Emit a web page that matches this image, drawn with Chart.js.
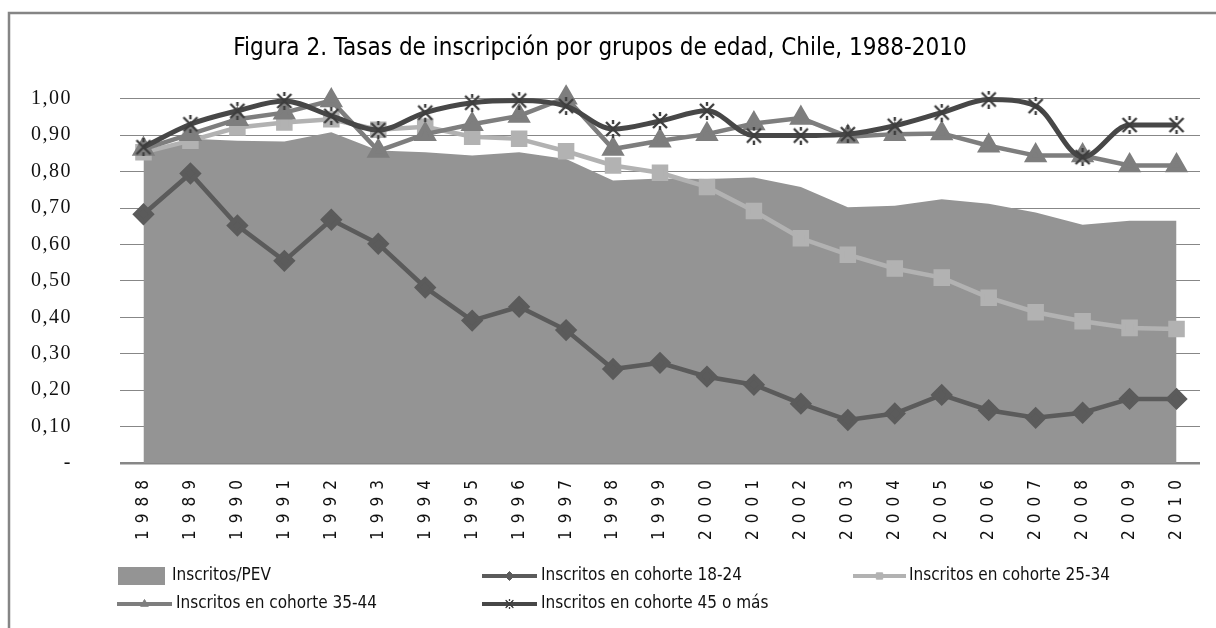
<!DOCTYPE html>
<html>
<head>
<meta charset="utf-8">
<script src="https://cdn.jsdelivr.net/npm/chart.js@4/dist/chart.umd.min.js"></script>
<style>
html,body{margin:0;padding:0;background:#fff;}
#wrap{width:1216px;height:628px;}
</style>
</head>
<body>
<div id="wrap"><canvas id="c" width="1216" height="628"></canvas></div>
<script>
const titleText = 'Figura 2. Tasas de inscripción por grupos de edad, Chile, 1988-2010';
const years = ['1988','1989','1990','1991','1992','1993','1994','1995','1996','1997','1998','1999','2000','2001','2002','2003','2004','2005','2006','2007','2008','2009','2010'];
const yTickLabels = ['-','0,10','0,20','0,30','0,40','0,50','0,60','0,70','0,80','0,90','1,00'];
const seriesNames = ['Inscritos/PEV','Inscritos en cohorte 18-24','Inscritos en cohorte 25-34','Inscritos en cohorte 35-44','Inscritos en cohorte 45 o más'];
const inscritosPEV = [0.850,0.890,0.885,0.883,0.908,0.858,0.853,0.844,0.853,0.835,0.776,0.781,0.780,0.784,0.758,0.702,0.706,0.724,0.712,0.688,0.654,0.665,0.665];
const cohorte1824 = [0.683,0.795,0.652,0.555,0.668,0.602,0.482,0.391,0.429,0.365,0.258,0.275,0.237,0.215,0.163,0.118,0.136,0.187,0.145,0.124,0.138,0.176,0.176];
const cohorte2534 = [0.853,0.885,0.921,0.935,0.944,0.915,0.923,0.896,0.890,0.856,0.817,0.797,0.758,0.692,0.617,0.572,0.534,0.509,0.454,0.414,0.389,0.371,0.368];
const cohorte3544 = [0.862,0.903,0.944,0.962,0.995,0.857,0.903,0.930,0.953,1.003,0.862,0.885,0.903,0.932,0.947,0.896,0.903,0.905,0.871,0.844,0.844,0.817,0.817];
const cohorte45 = [0.867,0.930,0.967,0.994,0.953,0.914,0.962,0.989,0.995,0.980,0.917,0.939,0.967,0.899,0.899,0.903,0.926,0.962,0.998,0.980,0.840,0.928,0.928];

const FONT = "'DejaVu Sans Condensed','Liberation Sans',sans-serif";
const SERIF = "'Liberation Serif','DejaVu Serif',serif";

function makeStar(color){
  const s = document.createElement('canvas');
  s.width = 18; s.height = 18;
  const g = s.getContext('2d');
  g.strokeStyle = color; g.lineWidth = 2.4; g.lineCap='butt';
  g.beginPath();
  g.moveTo(2,2); g.lineTo(16,16);
  g.moveTo(16,2); g.lineTo(2,16);
  g.moveTo(9,0); g.lineTo(9,4);
  g.moveTo(9,14); g.lineTo(9,18);
  g.stroke();
  return s;
}
const starImg = makeStar('#3e3e3e');

const framePlugin = {
  id:'frame',
  beforeDraw(chart){
    const ctx = chart.ctx;
    ctx.save();
    ctx.strokeStyle = '#858585'; ctx.lineWidth = 2.5;
    ctx.beginPath();
    ctx.moveTo(9,628); ctx.lineTo(9,13); ctx.lineTo(1216,13);
    ctx.stroke();
    ctx.restore();
    const sp = {x:'7px', y:'1.5px'};
    for (const id of ['x','y']){
      const sc = chart.scales[id];
      if (sc && !sc._lsPatched){
        const orig = sc.drawLabels.bind(sc);
        sc.drawLabels = function(area){
          const c = this.ctx; c.save(); c.letterSpacing = sp[id]; orig(area); c.restore();
        };
        sc._lsPatched = true;
      }
    }
  }
};

const legendPlugin = {
  id:'customLegend',
  afterDraw(chart){
    const ctx = chart.ctx;
    const pos = [
      {x:118, y:576, w:47, tx:172},
      {x:482, y:576, w:55, tx:541},
      {x:853, y:576, w:53, tx:909},
      {x:117, y:604, w:55, tx:176},
      {x:482, y:604, w:55, tx:541}
    ];
    chart.data.datasets.forEach((ds, i) => {
      const p = pos[i];
      ctx.save();
      if (ds.fill) {
        ctx.fillStyle = ds.backgroundColor;
        ctx.fillRect(p.x, p.y-9, p.w, 18);
      } else {
        ctx.strokeStyle = ds.borderColor; ctx.lineWidth = 4;
        ctx.beginPath(); ctx.moveTo(p.x, p.y); ctx.lineTo(p.x+p.w, p.y); ctx.stroke();
        ctx.fillStyle = ds.pointBackgroundColor; ctx.strokeStyle = ds.pointBorderColor;
        ctx.lineWidth = 1;
        if (typeof ds.pointStyle === 'string') {
          Chart.helpers.drawPoint(ctx, {pointStyle: ds.pointStyle, radius: 4.5, rotation:0, borderWidth:1}, p.x+p.w/2, p.y);
        } else {
          ctx.drawImage(ds.pointStyle, p.x+p.w/2-5, p.y-5, 10, 10);
        }
      }
      ctx.fillStyle = '#111';
      ctx.font = '17px ' + FONT;
      ctx.textBaseline = 'middle';
      ctx.textAlign = 'left';
      ctx.fillText(ds.label, p.tx, p.y);
      ctx.restore();
    });
  }
};

new Chart(document.getElementById('c'), {
  type:'line',
  data:{
    labels: years,
    datasets:[
      {label: seriesNames[0], data: inscritosPEV, fill:'origin', backgroundColor:'#949494', borderColor:'#949494', borderWidth:0, pointRadius:0, order:5, tension:0},
      {label: seriesNames[1], data: cohorte1824, fill:false, borderColor:'#5b5b5b', borderWidth:4.5, pointStyle:'rectRot', pointRadius:8, pointBackgroundColor:'#5b5b5b', pointBorderColor:'#5b5b5b', order:4, tension:0},
      {label: seriesNames[2], data: cohorte2534, fill:false, borderColor:'#b2b2b2', borderWidth:4.5, pointStyle:'rect', pointRadius:8.5, pointBackgroundColor:'#b2b2b2', pointBorderColor:'#b2b2b2', order:3, tension:0},
      {label: seriesNames[3], data: cohorte3544, fill:false, borderColor:'#7e7e7e', borderWidth:4.5, pointStyle:'triangle', pointRadius:9, pointBackgroundColor:'#7e7e7e', pointBorderColor:'#7e7e7e', order:2, tension:0},
      {label: seriesNames[4], data: cohorte45, fill:false, borderColor:'#474747', borderWidth:5, pointStyle:starImg, pointRadius:9, pointBackgroundColor:'#474747', pointBorderColor:'#474747', order:1, cubicInterpolationMode:'monotone'}
    ]
  },
  options:{
    responsive:false,
    animation:false,
    clip:false,
    layout:{padding:{left:0,right:16,top:23,bottom:60}},
    plugins:{
      legend:{display:false},
      tooltip:{enabled:false},
      title:{display:true, text:titleText, color:'#000', font:{family:FONT, size:24, weight:'normal'}, padding:{top:11,bottom:36}}
    },
    scales:{
      x:{
        offset:true,
        grid:{display:false},
        border:{display:false},
        ticks:{color:'#111', font:{family:FONT, size:17}, maxRotation:90, minRotation:90, padding:2, autoSkip:false},
        afterFit(s){ s.height = 105; }
      },
      y:{
        min:0, max:1,
        ticks:{stepSize:0.1, color:'#111', font:{family:SERIF, size:20}, padding:48,
          callback:(v,i)=>yTickLabels[i]},
        grid:{color:'#878787', drawTicks:false, lineWidth:(c)=> c.tick && c.tick.value===0 ? 2.5 : 1},
        border:{display:false},
        afterFit(s){ s.width = 120; }
      }
    }
  },
  plugins:[framePlugin, legendPlugin]
});
</script>
</body>
</html>
